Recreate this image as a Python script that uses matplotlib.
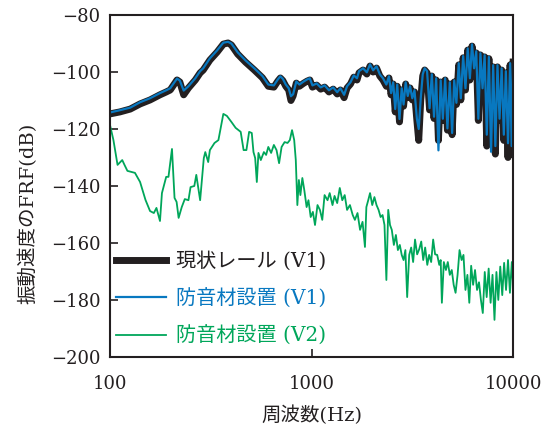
import matplotlib
matplotlib.use("Agg")
import matplotlib.pyplot as plt
from matplotlib.ticker import FixedLocator, NullLocator, FixedFormatter

plt.rcParams['font.family'] = ['DejaVu Serif', 'Noto Sans CJK JP']
plt.rcParams['axes.unicode_minus'] = True

# 現状レール(V1) / 防音材設置(V1) の周波数 (Hz)
freq_v1 = [100, 112, 126, 141, 158, 177, 190, 199, 215, 222, 232, 245, 265, 280, 290,
           313, 340, 365, 385, 400, 430, 470, 520, 570, 610, 650, 680, 700, 720, 745,
           770, 790, 810, 840, 870, 910, 950, 980, 1010, 1060, 1110, 1160, 1220, 1280,
           1340, 1390, 1450, 1500, 1560, 1620, 1680, 1720, 1800, 1880, 1950, 2020, 2100,
           2180, 2260, 2350, 2420, 2480, 2540, 2600, 2660, 2730, 2800, 2860, 2930, 3000,
           3080, 3160, 3240, 3330, 3400, 3480, 3560, 3640, 3740, 3850, 3950, 4050, 4150,
           4260, 4370, 4480, 4600, 4720, 4850, 4980, 5100, 5230, 5370, 5500, 5650, 5800,
           5950, 6100, 6250, 6400, 6560, 6720, 6880, 7050, 7220, 7400, 7580, 7770, 7960,
           8160, 8360, 8560, 8770, 8990, 9200, 9430, 9660, 9830, 10000]

# 現状レール(V1) (dB)
current_v1 = [-114.7, -114.0, -113.0, -111.2, -109.8, -108.0, -107.0, -106.3, -102.8, -103.5,
              -108.0, -105.6, -102.8, -100.3, -99.3, -95.8, -93.0, -90.2, -89.8, -90.5,
              -93.7, -96.5, -99.3, -102.0, -105.0, -105.3, -103.2, -102.1, -103.0, -105.0,
              -106.3, -110.0, -108.4, -103.9, -105.0, -104.0, -103.2, -102.8, -105.3, -104.6,
              -106.0, -105.3, -107.0, -106.0, -107.7, -106.3, -109.0, -105.6, -104.2, -101.8,
              -102.8, -100.3, -99.3, -100.7, -97.9, -100.0, -98.6, -101.4, -102.8, -105.0,
              -102.1, -108.0, -104.2, -114.0, -105.0, -117.5, -106.3, -112.0, -104.2, -109.0,
              -105.6, -109.8, -107.0, -117.0, -124.0, -109.8, -101.4, -99.3, -100.3, -113.3,
              -101.4, -116.3, -102.8, -124.0, -103.5, -117.0, -102.8, -120.4, -104.2, -122.0,
              -103.5, -111.4, -97.5, -109.8, -95.0, -106.3, -92.3, -102.8, -90.9, -99.3,
              -93.3, -117.0, -94.0, -106.3, -94.7, -126.0, -95.3, -120.4, -98.2, -128.8,
              -98.2, -117.0, -99.3, -124.0, -100.3, -130.0, -97.5, -129.0, -96.5]

# 防音材設置(V1) (dB)
damped_v1 = [-114.2, -113.4, -112.5, -110.6, -109.2, -107.4, -106.4, -105.7, -102.3, -103.0,
             -106.5, -105.0, -102.2, -99.7, -98.7, -95.2, -92.4, -89.7, -89.4, -90.0,
             -93.1, -95.9, -98.7, -101.4, -104.4, -104.7, -102.6, -101.5, -102.4, -104.4,
             -105.7, -108.5, -107.8, -103.3, -104.4, -103.4, -102.6, -102.2, -104.7, -104.0,
             -105.4, -104.7, -106.4, -105.4, -107.1, -105.7, -108.0, -105.0, -103.6, -101.2,
             -102.2, -99.7, -98.7, -100.1, -97.3, -99.4, -98.0, -100.8, -102.2, -104.4,
             -101.5, -107.4, -103.6, -113.0, -104.4, -116.5, -105.7, -111.4, -103.6, -108.4,
             -105.0, -109.2, -106.4, -116.4, -120.0, -109.2, -100.8, -98.7, -99.7, -112.7,
             -100.8, -115.7, -102.2, -127.5, -102.9, -116.4, -102.2, -119.8, -103.6, -121.4,
             -102.9, -110.8, -96.9, -109.2, -94.4, -105.7, -91.7, -102.2, -90.3, -98.7,
             -92.7, -116.4, -93.4, -105.7, -94.1, -122.0, -94.7, -128.0, -97.6, -126.0,
             -97.6, -116.4, -98.7, -122.0, -99.7, -125.0, -96.9, -126.0, -95.9]

# 防音材設置(V2)
freq_v2 = [100, 104, 109, 115, 118, 122, 133, 141, 150, 158, 165, 170, 177, 181, 190,
           195, 203, 209, 214, 219, 227, 235, 245, 251, 262, 268, 280, 292, 297, 307,
           313, 330, 345, 365, 380, 400, 420, 445, 460, 475, 490, 505, 515, 525, 535,
           545, 560, 580, 595, 610, 630, 650, 670, 690, 710, 735, 760, 780, 800, 820,
           835, 850, 865, 880, 900, 920, 945, 965, 990, 1015, 1040, 1070, 1100, 1130,
           1160, 1200, 1230, 1270, 1300, 1340, 1380, 1420, 1460, 1500, 1550, 1600, 1640,
           1690, 1740, 1790, 1840, 1870, 1910, 1950, 2000, 2050, 2100, 2150, 2200, 2250,
           2300, 2350, 2400, 2450, 2500, 2560, 2620, 2680, 2740, 2800, 2860, 2920, 2980,
           3050, 3120, 3190, 3260, 3340, 3420, 3500, 3580, 3660, 3750, 3830, 3920, 4010,
           4100, 4200, 4300, 4370, 4430, 4530, 4640, 4740, 4850, 4960, 5070, 5180, 5300,
           5420, 5550, 5670, 5800, 5930, 6060, 6190, 6330, 6470, 6620, 6770, 6920, 7070,
           7230, 7390, 7560, 7730, 7900, 8080, 8260, 8440, 8630, 8830, 9020, 9220, 9430,
           9640, 9850, 10000]
damped_v2 = [-118.6, -123.9, -132.6, -130.9, -132.6, -134.7, -135.4, -138.6, -144.9, -148.8,
             -149.5, -147.7, -152.3, -142.5, -136.8, -136.8, -127.0, -144.2, -145.6, -151.2,
             -147.4, -144.6, -145.0, -140.4, -140.0, -136.1, -145.0, -130.2, -128.1, -131.6,
             -127.4, -124.9, -123.9, -114.7, -115.4, -117.5, -119.6, -121.0, -127.4, -127.4,
             -121.0, -121.4, -128.1, -130.2, -138.6, -128.4, -130.9, -128.1, -129.1, -126.3,
             -128.4, -125.6, -127.4, -132.0, -126.3, -124.6, -124.9, -123.9, -120.4, -123.9,
             -130.9, -146.7, -137.9, -143.2, -137.2, -141.4, -147.4, -145.0, -150.9, -149.1,
             -153.7, -146.7, -148.4, -151.9, -143.2, -145.0, -142.5, -146.7, -143.5, -146.0,
             -140.7, -145.0, -143.2, -148.4, -146.7, -150.2, -151.9, -149.5, -155.4, -152.6,
             -161.4, -147.4, -145.0, -142.5, -146.7, -143.9, -146.7, -148.4, -150.9, -150.2,
             -153.7, -173.0, -148.4, -153.7, -155.4, -160.7, -157.2, -162.5, -160.7, -164.2,
             -166.0, -162.5, -179.0, -164.2, -161.6, -166.7, -158.8, -164.0, -162.2, -159.5,
             -166.0, -161.6, -167.7, -164.2, -166.7, -158.8, -164.0, -164.2, -167.7, -166.0,
             -181.0, -166.7, -169.5, -166.7, -171.2, -169.5, -174.7, -177.5, -171.2, -162.5,
             -166.0, -164.2, -176.5, -171.2, -181.0, -168.0, -174.7, -169.5, -176.5, -173.8,
             -180.0, -184.6, -170.2, -179.0, -169.0, -181.0, -171.2, -187.0, -170.2, -180.0,
             -168.3, -178.3, -167.0, -176.5, -166.0, -177.5, -166.7, -174.7]

labels = ['現状レール (V1)', '防音材設置 (V1)', '防音材設置 (V2)']
colors = ['#231f20', '#0878c0', '#00a65a']

fig = plt.figure(figsize=(5.5, 4.3), dpi=100)
ax = fig.add_axes([0.2, 0.17, 0.733, 0.795])

ax.plot(freq_v1, current_v1, color=colors[0], lw=5, solid_joinstyle='round', label=labels[0])
ax.plot(freq_v1, damped_v1, color=colors[1], lw=1.6, label=labels[1])
ax.plot(freq_v2, damped_v2, color=colors[2], lw=1.3, label=labels[2])

ax.set_xscale('log')
ax.set_xlim(100, 10000)
ax.set_ylim(-200, -80)
ax.xaxis.set_major_locator(FixedLocator([100, 1000, 10000]))
ax.xaxis.set_major_formatter(FixedFormatter(['100', '1000', '10000']))
ax.xaxis.set_minor_locator(NullLocator())
ax.set_yticks(range(-200, -79, 20))
ax.tick_params(direction='in', length=6, width=1.2, labelsize=13, colors='#231f20')
ax.tick_params(axis='x', pad=13)
ax.tick_params(axis='y', pad=7)
for s in ax.spines.values():
    s.set_linewidth(1.5)
    s.set_color('#231f20')

ax.set_xlabel('周波数(Hz)', fontsize=14, color='#231f20', labelpad=9)
ax.set_ylabel('振動速度のFRF(dB)', fontsize=14, color='#231f20')
ax.yaxis.set_label_coords(-0.18, 0.42)

leg = ax.legend(loc='lower left', frameon=False, fontsize=14.5, handlelength=2.5,
                handletextpad=0.5, labelspacing=0.85, borderaxespad=0.0, borderpad=0.3,
                bbox_to_anchor=(0.0, 0.015))
for txt, c in zip(leg.get_texts(), colors):
    txt.set_color(c)

fig.savefig('out.png', dpi=100)
